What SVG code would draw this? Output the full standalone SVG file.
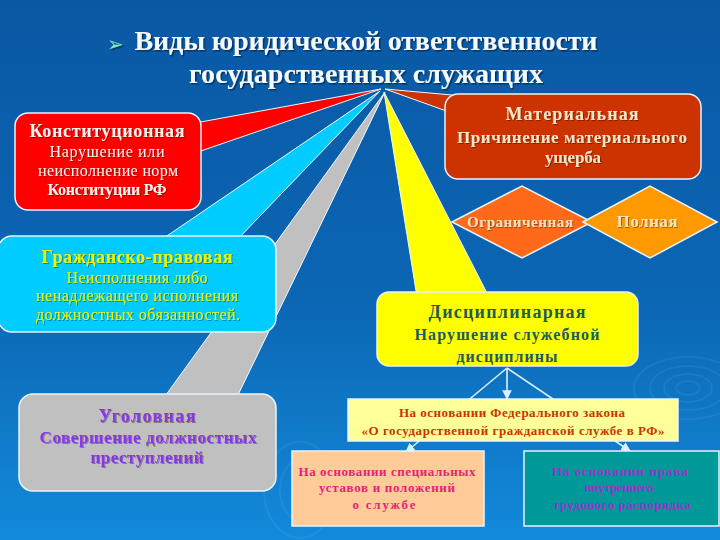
<svg xmlns="http://www.w3.org/2000/svg" width="720" height="540" viewBox="0 0 720 540">
<defs>
<linearGradient id="bg" x1="0" y1="0" x2="0" y2="1">
<stop offset="0" stop-color="#0a58a4"/>
<stop offset="0.55" stop-color="#0b66b4"/>
<stop offset="1" stop-color="#138ada"/>
</linearGradient>
<filter id="sh" x="-10%" y="-30%" width="120%" height="160%">
<feDropShadow dx="1.5" dy="1.5" stdDeviation="0.6" flood-color="#002040" flood-opacity="0.7"/>
</filter>
<filter id="sh2" x="-10%" y="-30%" width="120%" height="160%">
<feDropShadow dx="1" dy="1" stdDeviation="0.4" flood-color="#000" flood-opacity="0.35"/>
</filter>
<marker id="ah" viewBox="0 0 10 10" refX="9" refY="5" markerWidth="6" markerHeight="6" orient="auto">
<path d="M0,0 L10,5 L0,10 z" fill="#d8f2ff"/>
</marker>
</defs>
<style>
text{font-family:"Liberation Serif","Times New Roman",serif;text-anchor:middle}
.b{font-weight:bold}
.box{stroke:#e6f4ff;stroke-width:1.5}
.ptr{stroke:#f0f8ff;stroke-width:1}
.con{stroke:#d8f2ff;stroke-width:1.6;fill:none}
.ring{fill:none;stroke:#ffffff;stroke-opacity:0.06;stroke-width:2}
</style>
<rect width="720" height="540" fill="url(#bg)"/>
<g id="decor">
<ellipse class="ring" cx="688" cy="388" rx="12" ry="7"/>
<ellipse class="ring" cx="688" cy="388" rx="24" ry="14"/>
<ellipse class="ring" cx="688" cy="388" rx="38" ry="22"/>
<ellipse class="ring" cx="688" cy="388" rx="54" ry="31"/>
<ellipse class="ring" cx="300" cy="490" rx="20" ry="30"/>
<ellipse class="ring" cx="300" cy="490" rx="36" ry="48"/>
</g>
<g id="title" filter="url(#sh)">
<text x="115" y="51" font-family="DejaVu Sans,sans-serif" font-size="20" fill="#7fe8b8">➢</text>
<text class="b" x="366" y="50" font-size="28" fill="#f4faff" textLength="463">Виды юридической ответственности</text>
<text class="b" x="366" y="83" font-size="28" fill="#f4faff" textLength="354">государственных служащих</text>
</g>
<g id="pointers">
<polygon class="ptr" points="381,89 195,123 195,153" fill="#ff0000"/>
<polygon class="ptr" points="385,89 452,95 452,113" fill="#cc3300"/>
<polygon class="ptr" points="380,91 158,242 235,242" fill="#00ccff"/>
<polygon class="ptr" points="385,92 163,399 236,399" fill="#c0c0c0"/>
<polygon class="ptr" points="384,92 417,297 489,297" fill="#ffff00"/>
</g>
<g id="connectors">
<line class="con" x1="507" y1="368" x2="406" y2="452" marker-end="url(#ah)"/>
<line class="con" x1="507" y1="368" x2="630" y2="451" marker-end="url(#ah)"/>
<line class="con" x1="507" y1="368" x2="507" y2="399" marker-end="url(#ah)"/>
</g>
<g id="konst">
<rect class="box" x="15" y="113" width="186" height="97" rx="13" fill="#ff0000"/>
<g fill="#fff4f0" filter="url(#sh2)">
<text class="b" x="107" y="137" font-size="18" textLength="155">Конституционная</text>
<text x="107" y="157" font-size="16" textLength="115">Нарушение или</text>
<text x="108" y="176" font-size="16" textLength="140">неисполнение норм</text>
<text class="b" x="107" y="195" font-size="16" textLength="119">Конституции РФ</text>
</g>
</g>
<g id="material">
<rect class="box" x="445" y="94" width="256" height="85" rx="13" fill="#cc3300"/>
<g fill="#f8e6c8" filter="url(#sh2)">
<text class="b" x="572" y="120" font-size="18" textLength="133">Материальная</text>
<text class="b" x="572" y="143" font-size="17" textLength="230">Причинение материального</text>
<text class="b" x="573" y="163" font-size="17" textLength="56">ущерба</text>
</g>
</g>
<g id="ogr">
<polygon class="box" points="452,222 522,186 592,222 522,258" fill="#ff6a1a" stroke-width="1"/>
<text class="b" x="520" y="227" font-size="15" fill="#f8e2c4" filter="url(#sh2)" textLength="106">Ограниченная</text>
</g>
<g id="poln">
<polygon class="box" points="583,222 650,186 717,222 650,258" fill="#ff9900" stroke-width="1"/>
<text class="b" x="647" y="227" font-size="17" fill="#f8e2c4" filter="url(#sh2)" textLength="61">Полная</text>
</g>
<g id="grazh">
<rect class="box" x="-2" y="236" width="278" height="96" rx="14" fill="#00ccff"/>
<g fill="#f0f400" filter="url(#sh2)">
<text class="b" x="137" y="263" font-size="18" textLength="191">Гражданско-правовая</text>
<text x="137" y="283" font-size="16" textLength="141">Неисполнения либо</text>
<text x="137" y="301" font-size="16" textLength="202">ненадлежащего исполнения</text>
<text x="138" y="320" font-size="16" textLength="204">должностных обязанностей.</text>
</g>
</g>
<g id="ugol">
<rect class="box" x="19" y="394" width="257" height="97" rx="14" fill="#c0c0c0"/>
<g fill="#8a34e6" filter="url(#sh2)">
<text class="b" x="147" y="422" font-size="18" textLength="97">Уголовная</text>
<text class="b" x="148" y="443" font-size="17" textLength="217">Совершение должностных</text>
<text class="b" x="147" y="463" font-size="17" textLength="113">преступлений</text>
</g>
</g>
<g id="disc">
<rect class="box" x="377" y="292" width="261" height="74" rx="12" fill="#ffff00"/>
<g fill="#1c5c5c">
<text class="b" x="507" y="318" font-size="18" textLength="157">Дисциплинарная</text>
<text class="b" x="507" y="340" font-size="16" textLength="185">Нарушение служебной</text>
<text class="b" x="507" y="362" font-size="16" textLength="101">дисциплины</text>
</g>
</g>
<g id="federal">
<rect class="box" x="348" y="399" width="330" height="42" fill="#ffff99" stroke-width="1"/>
<g fill="#cc3300">
<text class="b" x="512" y="417" font-size="13" textLength="226">На основании Федерального закона</text>
<text class="b" x="513" y="435" font-size="13" textLength="303">«О государственной гражданской службе в РФ»</text>
</g>
</g>
<g id="ustav">
<rect class="box" x="292" y="451" width="192" height="75" fill="#ffcc99" stroke-width="1"/>
<g fill="#e8207a">
<text class="b" x="387" y="476" font-size="13" textLength="177">На основании специальных</text>
<text class="b" x="387" y="492" font-size="13" textLength="136">уставов и положений</text>
<text class="b" x="384" y="509" font-size="13" textLength="63">о службе</text>
</g>
</g>
<g id="trud">
<rect class="box" x="524" y="451" width="195" height="75" fill="#009999" stroke-width="1"/>
<g fill="#9933cc">
<text class="b" x="620" y="476" font-size="13" textLength="136">На основании права</text>
<text class="b" x="619" y="492" font-size="13" textLength="69">внутреннего</text>
<text class="b" x="622" y="509" font-size="13" textLength="138">трудового распорядка</text>
</g>
</g>
</svg>
